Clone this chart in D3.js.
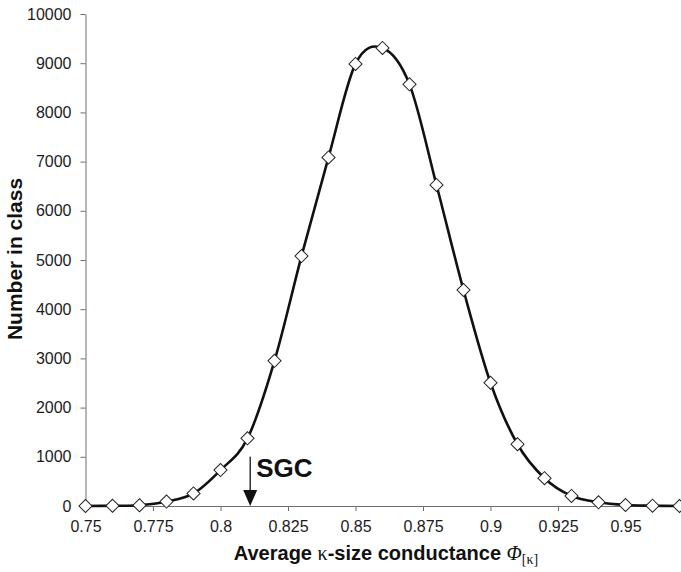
<!DOCTYPE html>
<html>
<head>
<meta charset="utf-8">
<script src="https://cdn.jsdelivr.net/npm/d3@7"></script>
<style>
body { margin: 0; background: #fff; }
svg { display: block; font-family: "Liberation Sans", Arial, sans-serif; }
.axis path, .axis line { stroke: #6e6e6e; }
.axis text { font-size: 16px; fill: #1c1c1c; font-family: "Liberation Sans", Arial, sans-serif; }
</style>
</head>
<body>
<script>
// conductance classes and number in each class
const phi = [0.75, 0.76, 0.77, 0.78, 0.79, 0.80, 0.81, 0.82, 0.83, 0.84, 0.85, 0.86,
  0.87, 0.88, 0.89, 0.90, 0.91, 0.92, 0.93, 0.94, 0.95, 0.96, 0.97];
const counts = [0, 5, 15, 90, 255, 730, 1375, 2950, 5080, 7085, 8985, 9310,
  8570, 6525, 4390, 2505, 1255, 565, 205, 75, 20, 6, 0];
const xTicks = [0.75, 0.775, 0.8, 0.825, 0.85, 0.875, 0.9, 0.925, 0.95];
const yTicks = [0, 1000, 2000, 3000, 4000, 5000, 6000, 7000, 8000, 9000, 10000];
const sgc = 0.811;

const width = 681, height = 572;

const x = d3.scaleLinear().domain([0.75, 0.975]).range([85.5, 693]);
const y = d3.scaleLinear().domain([0, 10000]).range([506, 14]);

const svg = d3.select("body").append("svg")
  .attr("width", width)
  .attr("height", height);

svg.append("g")
  .attr("class", "axis")
  .attr("transform", `translate(0,${y(0)})`)
  .call(d3.axisBottom(x).tickValues(xTicks).tickFormat(d => d)
    .tickSize(5).tickSizeOuter(0).tickPadding(10));

svg.append("g")
  .attr("class", "axis")
  .attr("transform", `translate(${x(0.75)},0)`)
  .call(d3.axisLeft(y).tickValues(yTicks).tickFormat(d => d)
    .tickSize(5).tickSizeOuter(0).tickPadding(9));

// smoothed line like the spreadsheet
const line = d3.line()
  .x((d, i) => x(phi[i]))
  .y(d => y(d))
  .curve(d3.curveCatmullRom.alpha(0));

svg.append("path")
  .datum(counts)
  .attr("d", line)
  .attr("fill", "none")
  .attr("stroke", "#111")
  .attr("stroke-width", 2.6);

svg.selectAll(".pt")
  .data(counts)
  .join("path")
  .attr("class", "pt")
  .attr("d", d3.symbol(d3.symbolSquare, 86))
  .attr("transform", (d, i) => `translate(${x(phi[i])},${y(d)}) rotate(45)`)
  .attr("fill", "#fff")
  .attr("stroke", "#222")
  .attr("stroke-width", 1);

// SGC arrow
const ax = x(sgc), aTop = y(1000), aTip = y(0);
svg.append("line")
  .attr("x1", ax).attr("x2", ax)
  .attr("y1", aTop).attr("y2", aTip - 14)
  .attr("stroke", "#111")
  .attr("stroke-width", 1.3);
svg.append("path")
  .attr("d", `M${ax - 7},${aTip - 16}L${ax + 7},${aTip - 16}L${ax},${aTip}Z`)
  .attr("fill", "#111");
svg.append("text")
  .attr("x", ax + 6)
  .attr("y", aTop + 20)
  .attr("font-size", 26)
  .attr("font-weight", "bold")
  .attr("fill", "#111")
  .text("SGC");

// axis titles
svg.append("text")
  .attr("transform", `translate(22,259) rotate(-90)`)
  .attr("text-anchor", "middle")
  .attr("font-size", 21)
  .attr("font-weight", "bold")
  .attr("fill", "#111")
  .text("Number in class");

const xt = svg.append("text")
  .attr("x", 386)
  .attr("y", 560)
  .attr("text-anchor", "middle")
  .attr("font-size", 20)
  .attr("font-weight", "bold")
  .attr("fill", "#111");
xt.append("tspan").text("Average ");
xt.append("tspan").attr("font-weight", "normal").attr("font-family", "Liberation Serif, serif").text("κ");
xt.append("tspan").text("-size conductance ");
xt.append("tspan").attr("font-weight", "normal").attr("font-style", "italic")
  .attr("font-family", "Liberation Serif, serif").text("Φ");
xt.append("tspan").attr("font-weight", "normal").attr("font-size", 14).attr("dy", 4)
  .attr("font-family", "Liberation Serif, serif").text("[κ]");
</script>
</body>
</html>
